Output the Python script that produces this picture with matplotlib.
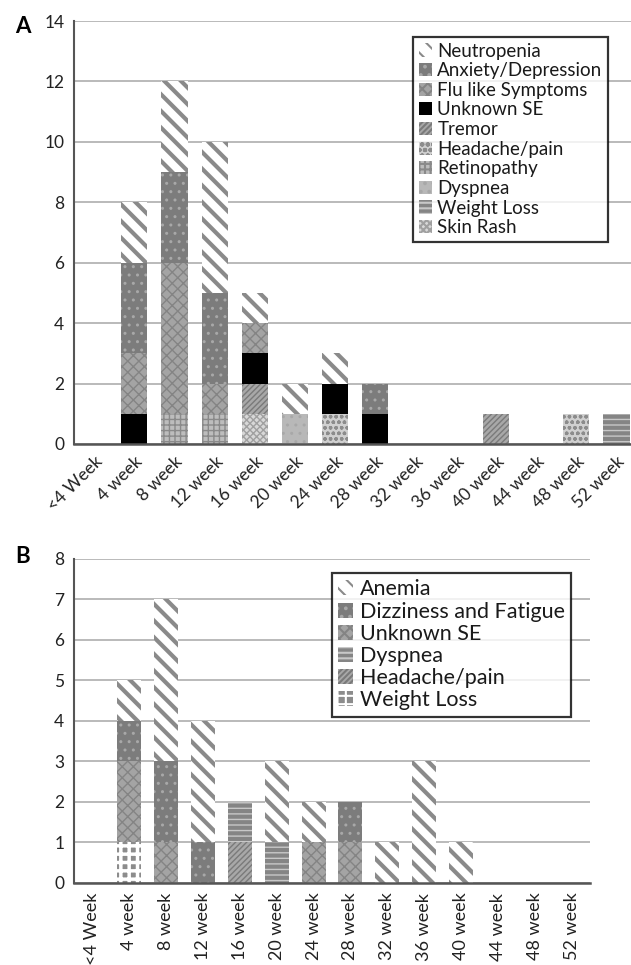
import numpy as np
import matplotlib
matplotlib.use("Agg")
import matplotlib.pyplot as plt

plt.rcParams['font.family'] = ['Lato', 'DejaVu Sans']

weeks = ['<4 Week', '4 week', '8 week', '12 week', '16 week', '20 week', '24 week',
         '28 week', '32 week', '36 week', '40 week', '44 week', '48 week', '52 week']

# Panel A, bottom of stack first
a_names = ['Skin Rash', 'Weight Loss', 'Dyspnea', 'Retinopathy', 'Headache/pain',
           'Tremor', 'Unknown SE', 'Flu like Symptoms', 'Anxiety/Depression', 'Neutropenia']
a_skin_rash = [0, 0, 0, 0, 1, 0, 0, 0, 0, 0, 0, 0, 0, 0]
a_weight_loss = [0, 0, 0, 0, 0, 0, 0, 0, 0, 0, 0, 0, 0, 1]
a_dyspnea = [0, 0, 0, 0, 0, 1, 0, 0, 0, 0, 0, 0, 0, 0]
a_retinopathy = [0, 0, 1, 1, 0, 0, 0, 0, 0, 0, 0, 0, 0, 0]
a_headache = [0, 0, 0, 0, 0, 0, 1, 0, 0, 0, 0, 0, 1, 0]
a_tremor = [0, 0, 0, 0, 1, 0, 0, 0, 0, 0, 1, 0, 0, 0]
a_unknown = [0, 1, 0, 0, 1, 0, 1, 1, 0, 0, 0, 0, 0, 0]
a_flu = [0, 2, 5, 1, 1, 0, 0, 0, 0, 0, 0, 0, 0, 0]
a_anxiety = [0, 3, 3, 3, 0, 0, 0, 1, 0, 0, 0, 0, 0, 0]
a_neutropenia = [0, 2, 3, 5, 1, 1, 1, 0, 0, 0, 0, 0, 0, 0]
a_values = [a_skin_rash, a_weight_loss, a_dyspnea, a_retinopathy, a_headache,
            a_tremor, a_unknown, a_flu, a_anxiety, a_neutropenia]

# Panel B, bottom of stack first
b_names = ['Weight Loss', 'Headache/pain', 'Dyspnea', 'Unknown SE',
           'Dizziness and Fatigue', 'Anemia']
b_weight_loss = [0, 1, 0, 0, 0, 0, 0, 0, 0, 0, 0, 0, 0, 0]
b_headache = [0, 0, 0, 0, 1, 0, 0, 0, 0, 0, 0, 0, 0, 0]
b_dyspnea = [0, 0, 0, 0, 1, 1, 0, 0, 0, 0, 0, 0, 0, 0]
b_unknown = [0, 2, 1, 0, 0, 0, 1, 1, 0, 0, 0, 0, 0, 0]
b_dizziness = [0, 1, 2, 1, 0, 0, 0, 1, 0, 0, 0, 0, 0, 0]
b_anemia = [0, 1, 4, 3, 0, 2, 1, 0, 1, 3, 1, 0, 0, 0]
b_values = [b_weight_loss, b_headache, b_dyspnea, b_unknown, b_dizziness, b_anemia]

# fill style per pattern: (facecolor, hatch, hatch colour, hatch linewidth)
styles = {
    'stripes': ('white', '\\\\', '#8a8a8a', 3.0),
    'dots_dark': ('#7c7c7c', '..', '#a8a8a8', 1.0),
    'wavy': ('#a4a4a4', 'xxx', '#848484', 1.0),
    'black': ('black', '', 'black', 1.0),
    'fine_diag': ('#a8a8a8', '//////', '#7a7a7a', 1.0),
    'diamond': ('#d0d0d0', 'ooo', '#8c8c8c', 1.0),
    'brick': ('#bdbdbd', '+++', '#8a8a8a', 1.0),
    'light': ('#b8b8b8', '..', '#a8a8a8', 1.0),
    'dashes': ('#858585', '---', '#c8c8c8', 1.0),
    'checker_fine': ('#d8d8d8', 'xxxxx', '#a0a0a0', 1.0),
    'checker': ('#8c8c8c', '++', 'white', 2.5),
}
a_styles = ['checker_fine', 'dashes', 'light', 'brick', 'diamond',
            'fine_diag', 'black', 'wavy', 'dots_dark', 'stripes']
b_styles = ['checker', 'fine_diag', 'dashes', 'wavy', 'dots_dark', 'stripes']

fig = plt.figure(figsize=(6.31, 9.65), dpi=100)
axA = fig.add_axes([0.1173, 0.5399, 0.8827, 0.4383])
axB = fig.add_axes([0.1173, 0.0850, 0.8177, 0.3358])


def draw_panel(ax, names, values, style_keys, ymax):
    x = np.arange(len(weeks))
    bottom = np.zeros(len(weeks))
    handles = []
    for name, vals, key in zip(names, values, style_keys):
        fc, hatch, hc, hlw = styles[key]
        vals = np.array(vals, dtype=float)
        with plt.rc_context({'hatch.linewidth': hlw}):
            bars = ax.bar(x, vals, 0.65, bottom=bottom, color=fc, hatch=hatch,
                          edgecolor=hc, linewidth=0, label=name, zorder=2)
        handles.append(bars)
        bottom += vals
    ax.set_ylim(0, ymax)
    ax.set_yticks(range(0, ymax + 1, 2 if ymax > 8 else 1))
    ax.yaxis.grid(True, color='#b4b4b4', linewidth=1.3, zorder=0)
    ax.set_axisbelow(True)
    for s in ['top', 'right']:
        ax.spines[s].set_visible(False)
    ax.spines['left'].set_color('#555555')
    ax.spines['bottom'].set_color('#555555')
    ax.spines['left'].set_linewidth(1.5)
    ax.spines['bottom'].set_linewidth(1.8)
    ax.tick_params(length=0, labelsize=12.5, colors='#222222', pad=7)
    return handles[::-1], names[::-1]


def make_legend(handles, labels, anchor, size, spacing):
    with plt.rc_context({'hatch.linewidth': 1.5}):
        leg = fig.legend(handles, labels, loc='upper left', bbox_to_anchor=anchor,
                         fontsize=size, frameon=True, fancybox=False, edgecolor='black',
                         handlelength=0.7, handleheight=0.7, handletextpad=0.3,
                         labelspacing=spacing, borderpad=0.3, borderaxespad=0)
    leg.get_frame().set_linewidth(1.6)
    for t in leg.get_texts():
        t.set_color('#1a1a1a')
    return leg


hA, lA = draw_panel(axA, a_names, a_values, a_styles, 14)
axA.set_xlim(-0.5, 13.36)
axA.set_xticks(np.arange(len(weeks)))
axA.set_xticklabels(weeks, rotation=45, ha='right', rotation_mode='anchor', fontsize=12.5)
make_legend(hA, lA, (0.6545, 0.9617), 13.5, 0.14)

hB, lB = draw_panel(axB, b_names, b_values, b_styles, 8)
axB.set_xlim(-0.5, 13.5)
axB.set_xticks(np.arange(len(weeks)))
axB.set_xticklabels(weeks, rotation=90, ha='center', va='top', fontsize=13)
make_legend(hB, lB, (0.526, 0.4062), 15.5, 0.1)

fig.text(0.024, 0.973, 'A', fontsize=16, fontweight='bold', ha='left', va='center')
fig.text(0.024, 0.423, 'B', fontsize=16, fontweight='bold', ha='left', va='center')

fig.savefig('out.png', dpi=100)
